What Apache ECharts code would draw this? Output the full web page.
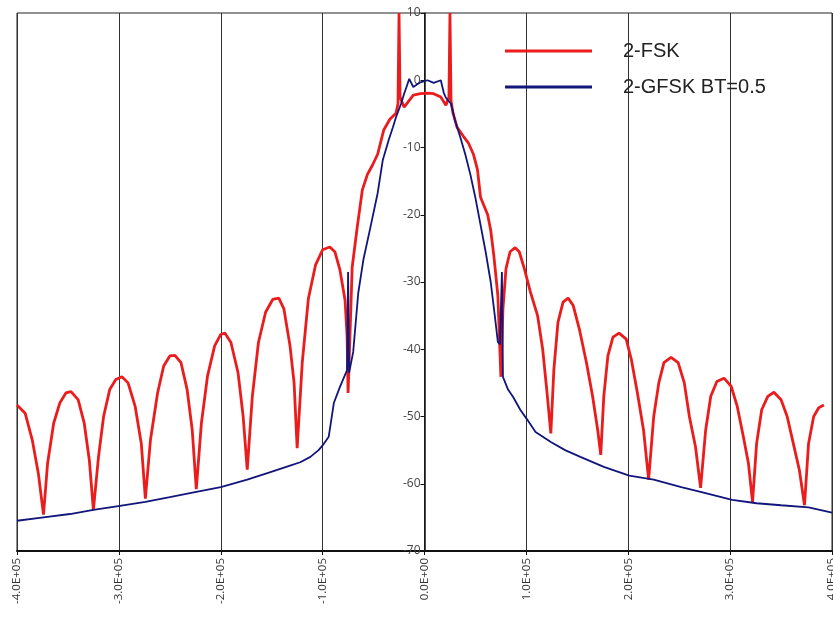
<!DOCTYPE html>
<html>
<head>
<meta charset="utf-8">
<script src="https://cdn.jsdelivr.net/npm/echarts@6/dist/echarts.min.js"></script>
<style>
  html, body { margin: 0; padding: 0; background: #fff; }
  #chart { width: 833px; height: 618px; }
</style>
</head>
<body>
<div id="chart"></div>
<script>
// frequency offsets in kHz, levels in dB
const fskFreqKHz = [
  -400, -392, -385, -379, -374, -370, -364, -358, -352, -347,
  -340, -334, -329, -325, -320, -315, -309, -303, -297, -291,
  -284, -278, -274, -269, -262, -256, -250, -245, -239, -233,
  -228, -224, -219, -213, -206, -200, -196, -190, -183, -178,
  -174, -169, -163, -156, -149, -143, -138, -132, -128, -125,
  -120, -114, -107, -100, -93, -88, -83, -78, -76, -75,
  -71, -66, -61, -56, -51, -46, -40, -34, -28, -26,
  -25, -24, -20, -17, -11, -4, 3, 9, 16, 21,
  24, 25, 26, 28, 32, 38, 43, 48, 52, 55,
  62, 65, 68, 72, 75, 77, 80, 84, 89, 93,
  98, 104, 111, 116, 120, 124, 127, 131, 136, 141,
  146, 152, 159, 165, 170, 173, 176, 180, 185, 191,
  198, 203, 209, 215, 220, 225, 230, 235, 242, 249,
  255, 260, 266, 271, 276, 281, 287, 294, 301, 307,
  313, 318, 322, 326, 331, 337, 343, 350, 356, 362,
  368, 373, 377, 382, 387, 392, 400
];
const fskLevel = [
  -48.3, -49.5, -53.5, -58.5, -64.6, -57, -51, -48, -46.5, -46.3,
  -47.5, -51, -56.5, -63.9, -56, -50, -46, -44.5, -44.1, -45,
  -48.5, -54, -62.2, -53.5, -46.5, -42.5, -41, -40.9, -42, -46,
  -52, -60.8, -51, -44, -39.5, -37.8, -37.6, -39, -43.5, -50,
  -57.9, -47, -39, -34.5, -32.6, -32.4, -34, -39.5, -45, -54.7,
  -42, -32.5, -27.5, -25.2, -24.8, -25.5, -28.2, -32.7, -38, -46.5,
  -27.8, -21.8, -16.3, -14, -12.6, -11, -7.4, -5.8, -4.9, -3.5,
  10, -2.5, -4, -3.4, -2.2, -2, -1.9, -2, -2.5, -3.7,
  -2.5, 10, -3, -4.9, -7, -8.3, -9.3, -11, -13.3, -17.4,
  -20, -22.3, -26, -32, -44.1, -34, -28, -25.5, -24.9, -25.5,
  -28, -31.5, -35, -40, -46, -52.5, -43, -36, -33, -32.4,
  -33.5, -37, -42, -47, -52, -55.7, -47, -41, -38.2, -37.6,
  -38.5, -41.5, -46.5, -52, -59.4, -50, -45, -42, -41.2, -42,
  -45, -50, -54.5, -60.6, -52, -47, -44.8, -44.3, -45.5, -48.5,
  -53, -57, -62.7, -54, -49, -47, -46.4, -47.5, -50, -54,
  -58, -63.2, -54, -50, -48.7, -48.3
];

const gfskFreqKHz = [
  -400, -374, -348, -325, -299, -274, -250, -224, -200, -174,
  -152, -132, -122, -112, -104, -100, -94, -89, -83, -76,
  -75, -74, -70, -65, -60, -53, -46, -41, -35, -31,
  -28, -23, -20, -17, -15, -11, -7, -4, 3, 9,
  16, 19, 21, 26, 30, 35, 40, 45, 50, 55,
  60, 65, 69, 72, 74, 76, 77, 82, 87, 94,
  101, 109, 124, 138, 153, 176, 201, 225, 252, 271,
  302, 326, 350, 377, 400
];
const gfskLevel = [
  -65.5, -65, -64.5, -63.9, -63.3, -62.7, -62, -61.2, -60.5, -59.4,
  -58.3, -57.3, -56.8, -56, -55, -54.3, -53, -48, -45.6, -43.1,
  -28.5, -43.5, -40.4, -31.6, -26.7, -21.8, -16.8, -11.9, -8.8, -7,
  -5.5, -3.5, -2, -0.7, 0.2, -1, -0.6, -0.3, 0, -0.4,
  0, -1.9, -2.6, -3.5, -6, -8.4, -11, -14, -17.5, -21.5,
  -25.5, -30, -35, -38.9, -39.3, -28.5, -44.1, -46, -47.1, -49,
  -50.5, -52.3, -53.8, -55, -56, -57.5, -58.8, -59.4, -60.5, -61.2,
  -62.4, -62.9, -63.2, -63.5, -64.3
];

const xTicks = { min: -400000, max: 400000, step: 100000 };
const yTicks = { min: -70, max: 10, step: 10 };

const pairs = (fs, ls) => fs.map((f, i) => [f * 1000, ls[i]]);

const sciLabel = v => {
  const [m, e] = Number(v).toExponential(1).split('e');
  return m + 'E' + e[0] + e.slice(1).padStart(2, '0');
};

const gridLeft = 17, gridRight = 1, chartWidth = 833;
// the y axis sits at f = 0, half way across the plot
const yAxisShift = -(chartWidth - gridLeft - gridRight) / 2;

const chart = echarts.init(document.getElementById('chart'));
chart.setOption({
  animation: false,
  backgroundColor: '#fff',
  grid: {
    left: gridLeft, right: gridRight, top: 13, bottom: 67,
    containLabel: false,
    outerBoundsMode: 'none',
    show: true, borderColor: '#222', borderWidth: 1
  },
  legend: {
    orient: 'vertical',
    left: 500,
    top: 36,
    icon: 'rect',
    itemWidth: 87,
    itemHeight: 3,
    itemGap: 16,
    textStyle: {
      fontFamily: 'Liberation Sans',
      fontSize: 20,
      color: '#222',
      padding: [0, 0, 0, 26]
    },
    data: ['2-FSK', '2-GFSK BT=0.5']
  },
  xAxis: {
    type: 'value',
    min: xTicks.min,
    max: xTicks.max,
    interval: xTicks.step,
    axisLine: { onZero: false, lineStyle: { color: '#111', width: 2 } },
    axisTick: { show: true, length: 4, lineStyle: { color: '#111' } },
    splitLine: { show: true, lineStyle: { color: '#333', width: 1 } },
    axisLabel: {
      rotate: 90,
      margin: 7,
      fontFamily: 'Open Sans',
      fontSize: 11.5,
      color: '#333',
      formatter: sciLabel
    }
  },
  yAxis: {
    type: 'value',
    min: yTicks.min,
    max: yTicks.max,
    interval: yTicks.step,
    offset: yAxisShift,
    axisLine: { show: true, onZero: false, lineStyle: { color: '#111', width: 1.5 } },
    axisTick: { show: true, length: 4, lineStyle: { color: '#111' } },
    splitLine: { show: false },
    axisLabel: {
      margin: 4,
      fontFamily: 'Open Sans',
      fontSize: 12,
      color: '#444'
    }
  },
  series: [
    {
      name: '2-FSK',
      type: 'line',
      data: pairs(fskFreqKHz, fskLevel),
      symbol: 'none',
      showSymbol: false,
      color: '#ea1c1c',
      lineStyle: { color: '#ea1c1c', width: 2.8 }
    },
    {
      name: '2-GFSK BT=0.5',
      type: 'line',
      data: pairs(gfskFreqKHz, gfskLevel),
      symbol: 'none',
      showSymbol: false,
      color: '#12157a',
      lineStyle: { color: '#12157a', width: 1.8 }
    }
  ]
});
</script>
</body>
</html>
